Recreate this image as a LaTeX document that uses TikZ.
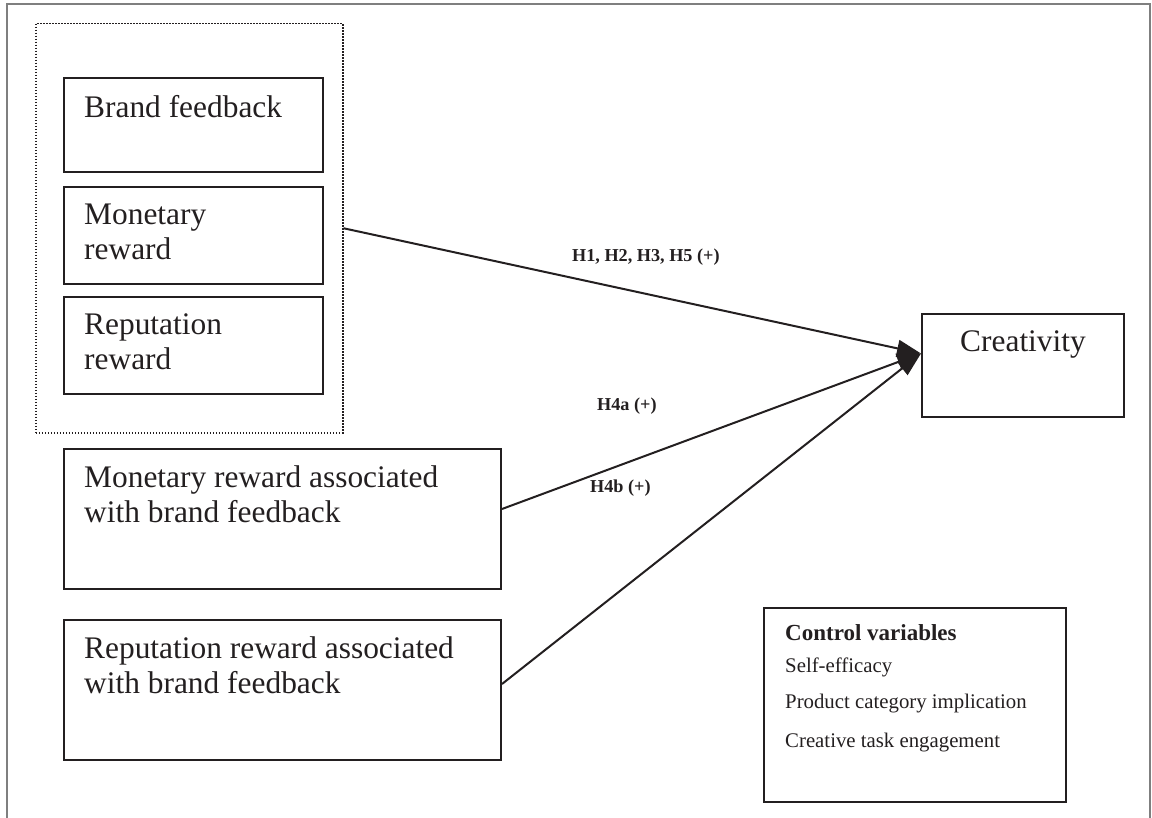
\documentclass[tikz,border=0pt]{standalone}
\usepackage{fontspec}
\setmainfont{Liberation Serif}
\usetikzlibrary{positioning,arrows.meta}
\definecolor{ink}{HTML}{231F20}
\definecolor{framegray}{HTML}{7F7F7F}
\tikzset{
  box/.style={draw=ink,line width=2pt,rectangle,inner sep=0pt,anchor=north west},
  boxtext/.style={inner sep=0pt,align=left,text=ink,font=\fontsize{31.4}{35}\selectfont},
  hyp/.style={inner sep=0pt,anchor=base west,text=ink,font=\fontsize{18.2}{20}\selectfont\bfseries},
  ctrl/.style={inner sep=0pt,anchor=base west,text=ink,font=\fontsize{20.8}{24}\selectfont},
  link/.style={draw=ink,line width=2pt,-{Triangle[length=24pt,width=17pt]}}
}
\begin{document}
\begin{tikzpicture}[x=1pt,y=1pt]
        \useasboundingbox (0,0) rectangle (1152,-818);
        %% Frame
        \draw[framegray,line width=1.5pt] (7,-818) -- (7,-4) -- (1150,-4) -- (1150,-818);
        %% Reward group
        \node[box,dash pattern=on 1.5pt off 1.5pt,line width=1.5pt,minimum width=307pt,minimum height=409pt] (group) at (35,-23) {};
        \node[box,minimum width=259pt,minimum height=94pt] (brand) at (63,-77) {};
        \node[boxtext,below right=18pt and 21pt of brand.north west] (brandtxt) {Brand feedback};
        \node[box,minimum width=259pt,minimum height=97pt] (money) at (63,-186) {};
        \node[boxtext,below right=18pt and 21pt of money.north west] (moneytxt) {Monetary\\reward};
        \node[box,minimum width=259pt,minimum height=97pt] (repu) at (63,-296) {};
        \node[boxtext,below right=18pt and 21pt of repu.north west] (reputxt) {Reputation\\reward};
        %% Associated rewards
        \node[box,minimum width=437pt,minimum height=140pt] (moneyfb) at (63,-448) {};
        \node[boxtext,below right=18pt and 21pt of moneyfb.north west] (moneyfbtxt) {Monetary reward associated\\with brand feedback};
        \node[box,minimum width=437pt,minimum height=140pt] (repufb) at (63,-619) {};
        \node[boxtext,below right=18pt and 21pt of repufb.north west] (repufbtxt) {Reputation reward associated\\with brand feedback};
        %% Outcome
        \node[box,minimum width=202pt,minimum height=103pt] (creat) at (921,-313) {};
        \node[boxtext,below=18pt of creat.north] (creattxt) {Creativity};
        %% Controls
        \node[box,minimum width=302pt,minimum height=194pt] (control) at (763,-607) {};
        \node[ctrl,font=\fontsize{23}{26}\selectfont\bfseries] (ctrlhead) at (785,-640) {Control variables};
        \node[ctrl] (selfeff) at (785,-672) {Self-efficacy};
        \node[ctrl] (prodcat) at (785,-708) {Product category implication};
        \node[ctrl] (taskeng) at (785,-747) {Creative task engagement};
        %% Paths
        \coordinate (tip) at ([yshift=12pt]creat.west);
        \draw[link] (group.east) -- (tip);
        \draw[link] ([yshift=10pt]moneyfb.east) -- (tip);
        \draw[link] ([yshift=6pt]repufb.east) -- (tip);
        %% Hypotheses
        \node[hyp] (hmain) at (572,-262) {H1, H2, H3, H5 (+)};
        \node[hyp] (hfoura) at (597,-410) {H4a (+)};
        \node[hyp] (hfourb) at (590,-492) {H4b (+)};
\end{tikzpicture}
\end{document}
